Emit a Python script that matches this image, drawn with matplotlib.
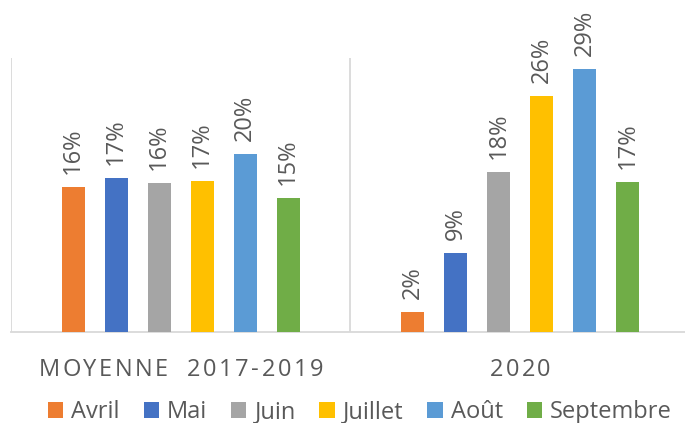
import matplotlib.pyplot as plt
import numpy as np

plt.rcParams['font.family'] = ['Open Sans', 'DejaVu Sans']

groups = ['MOYENNE  2017-2019', '2020']
months = ['Avril', 'Mai', 'Juin', 'Juillet', 'Août', 'Septembre']
moyenne = [16.0, 17.0, 16.4, 16.6, 19.6, 14.8]
annee_2020 = [2.2, 8.7, 17.6, 26.0, 29.0, 16.55]
colors = ['#ED7D31', '#4472C4', '#A5A5A5', '#FFC000', '#5B9BD5', '#70AD47']

text_col = '#595959'
line_col = '#D9D9D9'


def tracked_text(fig, x_px, y_px, s, tracking=3.0, **kw):
    # draw a string char by char with extra spacing, centred on x_px
    r = fig.canvas.get_renderer()
    widths = []
    for ch in s:
        t = fig.text(0, 0, ch, **kw)
        widths.append(t.get_window_extent(r).width if ch != ' ' else None)
        t.remove()
    # width of a space: measure "a a" minus "aa"
    t1 = fig.text(0, 0, 'a a', **kw)
    t2 = fig.text(0, 0, 'aa', **kw)
    sp = t1.get_window_extent(r).width - t2.get_window_extent(r).width
    t1.remove()
    t2.remove()
    widths = [w if w is not None else sp for w in widths]
    total = sum(widths) + tracking * (len(s) - 1)
    xx = x_px - total / 2
    W, H = fig.bbox.width, fig.bbox.height
    for ch, w in zip(s, widths):
        fig.text(xx / W, 1 - y_px / H, ch, ha='left', va='center', **kw)
        xx += w + tracking


fig = plt.figure(figsize=(6.85, 4.23), dpi=100)
ax = fig.add_axes([11 / 685, 91 / 423, 679 / 685, 274 / 423])

x = np.arange(len(groups))
step = 0.1267
width = 0.068
for i, m in enumerate(months):
    vals = [moyenne[i], annee_2020[i]]
    bars = ax.bar(x + (i - 2.5) * step, vals, width, color=colors[i], label=m, zorder=3)
    ax.bar_label(bars, labels=[f'{round(v)}%' for v in vals], rotation=90,
                 padding=9.5, fontsize=17, color=text_col)

ax.set_xlim(-0.5, 1.5)
ax.set_ylim(0, 30.2)
ax.set_yticks([])
ax.set_xticks([])

for sep in [-0.5, 0.5, 1.5]:
    ax.axvline(sep, color=line_col, lw=1.3, zorder=1)

for s in ['top', 'right', 'left']:
    ax.spines[s].set_visible(False)
ax.spines['bottom'].set_color(line_col)
ax.spines['bottom'].set_linewidth(1.3)

# category labels with letter spacing
for gx, g in zip(x, groups):
    px = ax.transData.transform((gx, 0))[0]
    tracked_text(fig, px, 370, g, tracking=2.5, fontsize=17, color=text_col)

fig.legend(loc='center', bbox_to_anchor=(360 / 685, 1 - 412 / 423), ncol=6,
           frameon=False, fontsize=17, labelcolor=text_col,
           handlelength=0.65, handleheight=0.65, handletextpad=0.35,
           columnspacing=1.0, borderaxespad=0)

fig.savefig('out.png', dpi=100)
